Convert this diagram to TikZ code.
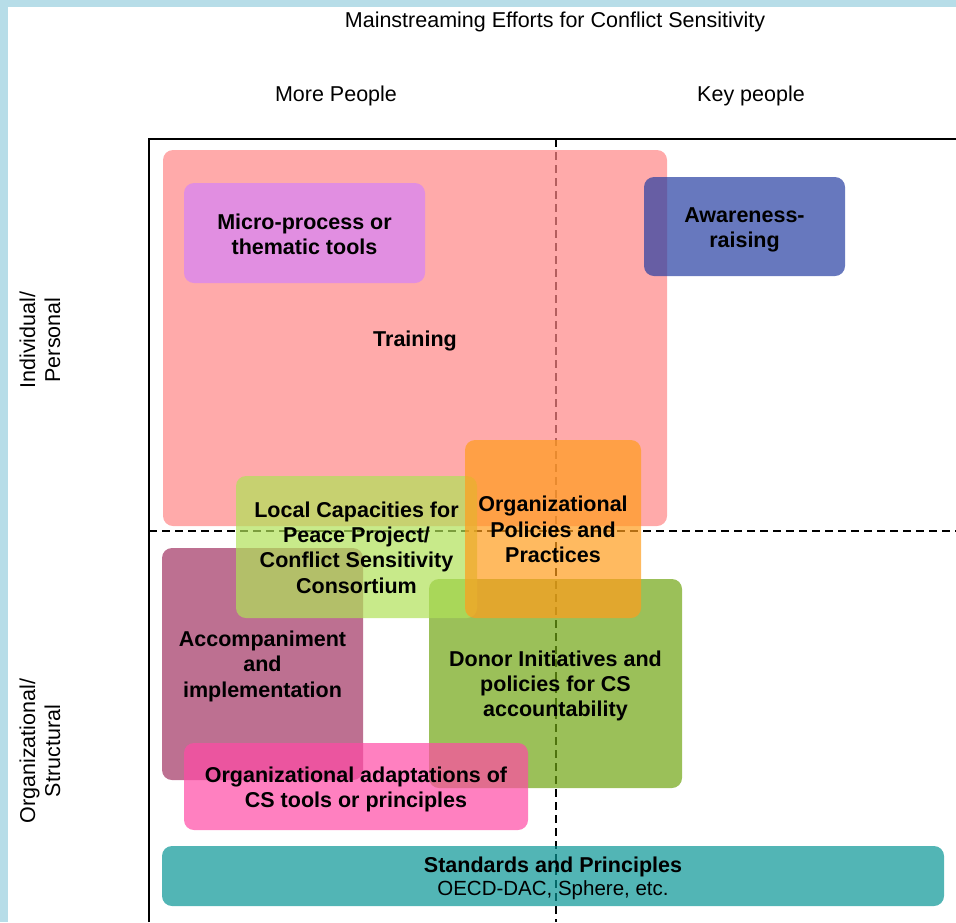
\documentclass[tikz,border=0pt]{standalone}
\usepackage{fontspec}
\setmainfont{Liberation Sans}
\definecolor{bordercol}{RGB}{183,221,232}
\definecolor{train}{RGB}{255,134,134}
\definecolor{micro}{RGB}{225,142,225}
\definecolor{aware}{RGB}{39,62,162}
\definecolor{orangec}{RGB}{255,157,28}
\definecolor{localc}{RGB}{176,225,88}
\definecolor{mauve}{RGB}{161,51,99}
\definecolor{donor}{RGB}{112,165,19}
\definecolor{adapt}{RGB}{255,74,165}
\definecolor{teal}{RGB}{8,149,149}
\begin{document}
\begin{tikzpicture}[x=1pt,y=-1pt,
  box/.style={rounded corners=10pt, inner sep=0pt, fill opacity=0.7},
  boxtext/.style={inner sep=0pt, align=center,
    font=\fontsize{21.5}{25.3}\selectfont\bfseries},
  lbl/.style={inner sep=0pt, align=center, font=\fontsize{21.5}{25}\selectfont},
  frame/.style={line width=1.5pt},
  divider/.style={line width=1.2pt, dash pattern=on 8pt off 5pt}]
\useasboundingbox (0,0) rectangle (956,922);
\fill[bordercol] (0,0) rectangle (8,922);
\fill[bordercol] (0,0) rectangle (956,7);
% axes
\coordinate (corner) at (149,139);
\coordinate (frameR) at (956,139);
\coordinate (frameB) at (149,922);
\coordinate (vTop) at (556,139);
\coordinate (vBot) at (556,922);
\coordinate (hL) at (149,531);
\coordinate (hR) at (956,531);
\draw[divider] (vTop) -- (vBot);
\draw[divider] (hL) -- (hR);
\draw[frame] (frameB) -- (corner) -- (frameR);
% labels
\node[lbl] (title) at (555,21.5) {Mainstreaming Efforts for Conflict Sensitivity};
\node[lbl] (more) at (336,96) {More People};
\node[lbl] (key) at (751,96) {Key people};
\node[lbl, rotate=90] (indiv) at (40,340) {Individual/\\Personal};
\node[lbl, rotate=90] (org) at (40,751) {Organizational/\\Structural};
% boxes
\node[box, fill=train, minimum width=504pt, minimum height=376pt] (training) at (415,338) {};
\node[boxtext, yshift=-3pt] (training-t) at (training.center) {Training};
\node[box, fill=micro, fill opacity=1, minimum width=241pt, minimum height=100pt] (micro) at (304.5,233) {};
\node[boxtext, yshift=-1.2pt] (micro-t) at (micro.center) {Micro-process or\\thematic tools};
\node[box, fill=aware, minimum width=201pt, minimum height=99pt] (aware) at (744.5,226.5) {};
\node[boxtext, yshift=-3.2pt] (aware-t) at (aware.center) {Awareness-\\raising};
\node[box, fill=mauve, minimum width=201pt, minimum height=232pt] (accomp) at (262.5,664) {};
\node[boxtext, yshift=-2.3pt] (accomp-t) at (accomp.center) {Accompaniment\\and\\implementation};
\node[box, fill=donor, minimum width=253pt, minimum height=209pt] (donor) at (555.5,683.5) {};
\node[boxtext, yshift=-2.6pt] (donor-t) at (donor.center) {Donor Initiatives and\\policies for CS\\accountability};
\node[box, fill=localc, minimum width=241pt, minimum height=142pt] (local) at (356.5,547) {};
\node[boxtext, yshift=-0.5pt] (local-t) at (local.center) {Local Capacities for\\Peace Project/\\Conflict Sensitivity\\Consortium};
\node[box, fill=orangec, minimum width=176pt, minimum height=178pt] (policies) at (553,529) {};
\node[boxtext, yshift=-0.5pt] (policies-t) at (policies.center) {Organizational\\Policies and\\Practices};
\node[box, fill=adapt, minimum width=344pt, minimum height=87pt] (adapt) at (356,786.5) {};
\node[boxtext, yshift=-2.8pt] (adapt-t) at (adapt.center) {Organizational adaptations of\\CS tools or principles};
\node[box, fill=teal, minimum width=782pt, minimum height=60pt] (standards) at (553,876) {};
\node[boxtext, yshift=-2.3pt] (standards-t) at (standards.center) {Standards and Principles\\[-2.5pt]{\mdseries\fontsize{20.5}{23}\selectfont OECD-DAC, Sphere, etc.}};
\end{tikzpicture}
\end{document}
